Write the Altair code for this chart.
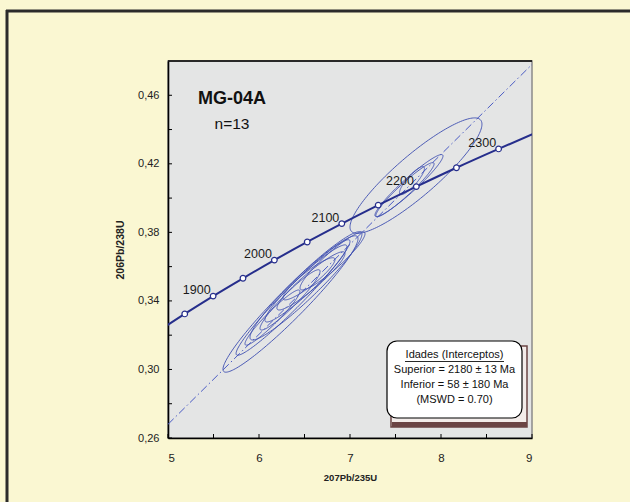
import altair as alt
import numpy as np
import pandas as pd

# ---- data ----
# Concordia markers (Ma) and their 207Pb/235U, 206Pb/238U positions
ages = [1800, 1850, 1900, 1950, 2000, 2050, 2100, 2150, 2200, 2250, 2300, 2350]
conc_x = [4.887, 5.184, 5.496, 5.824, 6.169, 6.530, 6.910, 7.310, 7.729, 8.170, 8.633, 9.119]
conc_y = [0.3221, 0.3324, 0.3428, 0.3532, 0.3638, 0.3744, 0.3851, 0.3959, 0.4067, 0.4177, 0.4287, 0.4399]
label_ages = [1900, 2000, 2100, 2200, 2300]

# Discordia (dash-dot) end points
disc_x = [5.0, 9.0]
disc_y = [0.268, 0.478]

# Error ellipses: centre, half extents, correlation
ell_cx = [6.346, 6.374, 6.516, 6.516, 6.571, 6.549, 6.341, 6.148, 6.808, 7.725, 7.648, 7.604, 7.681]
ell_cy = [0.3382, 0.3420, 0.3488, 0.3502, 0.3517, 0.3529, 0.3406, 0.3303, 0.3634, 0.4131, 0.4073, 0.4049, 0.4102]
ell_sx = [0.742, 0.626, 0.615, 0.451, 0.374, 0.286, 0.330, 0.302, 0.357, 0.725, 0.374, 0.320, 0.137]
ell_sy = [0.0398, 0.0337, 0.0316, 0.0225, 0.0170, 0.0123, 0.0176, 0.0161, 0.0170, 0.0337, 0.0181, 0.0158, 0.0082]
ell_rho = [0.957, 0.970, 0.952, 0.950, 0.935, 0.910, 0.946, 0.952, 0.930, 0.890, 0.954, 0.954, 0.860]

x_ticks = [5, 5.5, 6, 6.5, 7, 7.5, 8, 8.5, 9]
y_ticks = [0.26, 0.28, 0.30, 0.32, 0.34, 0.36, 0.38, 0.40, 0.42, 0.44, 0.46]

box_lines = ["Idades (Interceptos)", "Superior = 2180 ± 13 Ma", "Inferior = 58 ± 180 Ma", "(MSWD = 0.70)"]

# ---- tables ----
W, H = 364, 377
FONT = "Liberation Sans, Arial"
NAVY = "#262e8c"
ELL = "#3c4db0"

conc = pd.DataFrame({"age": ages, "x": conc_x, "y": conc_y})
markers = conc[(conc.age >= 1850) & (conc.age <= 2300)]
labels = conc[conc.age.isin(label_ages)]
disc = pd.DataFrame({"x": disc_x, "y": disc_y})

rows = []
t = np.linspace(0, 2 * np.pi, 160)
for i, (cx, cy, sx, sy, r) in enumerate(zip(ell_cx, ell_cy, ell_sx, ell_sy, ell_rho)):
    ex = cx + sx * np.cos(t)
    ey = cy + sy * (r * np.cos(t) + np.sqrt(1 - r * r) * np.sin(t))
    for k in range(len(t)):
        rows.append({"id": i, "k": k, "x": ex[k], "y": ey[k]})
ell = pd.DataFrame(rows)

xs = alt.Scale(domain=[5, 9], nice=False, zero=False)
ys = alt.Scale(domain=[0.26, 0.48], nice=False, zero=False)

one = pd.DataFrame({"a": [0]})

base_axes = alt.Chart(disc).mark_line(
    color="#4a5bc4", strokeWidth=1, strokeDash=[8, 3, 1.5, 3], clip=True
).encode(
    x=alt.X("x:Q", scale=xs, title="207Pb/235U",
            axis=alt.Axis(values=x_ticks, ticks=False, grid=False,
                          labelExpr="datum.value % 1 == 0 ? format(datum.value, 'd') : ''",
                          labelFont=FONT, labelFontSize=11.5, labelColor="#222",
                          labelPadding=14, domainColor="#000", domainWidth=1.6,
                          titleFont="Liberation Sans", titleFontSize=9.5, titleFontWeight="bold",
                          titleColor="#222", titlePadding=9)),
    y=alt.Y("y:Q", scale=ys, title="206Pb/238U",
            axis=alt.Axis(values=y_ticks, ticks=False, grid=False,
                          labelExpr="round(datum.value*100) % 4 == 2 ? replace(format(datum.value, '.2f'), '.', ',') : ''",
                          labelFont=FONT, labelFontSize=11, labelColor="#222",
                          labelPadding=9, domainColor="#000", domainWidth=1.6,
                          titleFont="Liberation Sans", titleFontSize=10.5, titleFontWeight="bold",
                          titleColor="#222", titlePadding=12)),
)

xtick = alt.Chart(pd.DataFrame({"v": x_ticks})).mark_rule(color="#000", strokeWidth=1).encode(
    x=alt.X("v:Q", scale=xs), y=alt.value(H), y2=alt.value(H - 4))
ytick = alt.Chart(pd.DataFrame({"v": y_ticks})).mark_rule(color="#000", strokeWidth=1).encode(
    y=alt.Y("v:Q", scale=ys), x=alt.value(0), x2=alt.value(4))

top_border = alt.Chart(one).mark_rule(color="#000", strokeWidth=1.6).encode(
    x=alt.value(0), x2=alt.value(W), y=alt.value(0))

ellipses = alt.Chart(ell).mark_line(color=ELL, strokeWidth=0.9, clip=True).encode(
    x=alt.X("x:Q", scale=xs), y=alt.Y("y:Q", scale=ys), detail="id:N", order="k:Q")

conc_line = alt.Chart(conc).mark_line(color=NAVY, strokeWidth=2, clip=True, interpolate="monotone").encode(
    x=alt.X("x:Q", scale=xs), y=alt.Y("y:Q", scale=ys), order="age:Q")

conc_pts = alt.Chart(markers).mark_point(filled=True, fill="white", stroke=NAVY, strokeWidth=1.2,
                                         size=32, opacity=1).encode(
    x=alt.X("x:Q", scale=xs), y=alt.Y("y:Q", scale=ys))

conc_lbl = alt.Chart(labels).mark_text(font=FONT, fontSize=12.5, color="#1a1a1a", align="right",
                                       baseline="alphabetic", dx=-2.5, dy=-2).encode(
    x=alt.X("x:Q", scale=xs), y=alt.Y("y:Q", scale=ys), text=alt.Text("age:Q", format="d"))

title1 = alt.Chart(one).mark_text(font=FONT, fontSize=18, fontWeight="bold", color="#111",
                                  baseline="middle", align="center").encode(
    x=alt.value(64), y=alt.value(38), text=alt.value("MG-04A"))
title2 = alt.Chart(one).mark_text(font=FONT, fontSize=15.5, color="#111",
                                  baseline="middle", align="center").encode(
    x=alt.value(64), y=alt.value(62.5), text=alt.value("n=13"))

# legend box (shadow + box + text)
shadow = alt.Chart(one).mark_rect(fill="#f3ecea", stroke="#6b4444", strokeWidth=1.5).encode(
    x=alt.value(223), x2=alt.value(359), y=alt.value(285), y2=alt.value(366))
band = alt.Chart(one).mark_rect(fill="#6b4444").encode(
    x=alt.value(224), x2=alt.value(359), y=alt.value(361), y2=alt.value(366))
box = alt.Chart(one).mark_rect(fill="white", stroke="#000", strokeWidth=1.2, cornerRadius=10).encode(
    x=alt.value(219), x2=alt.value(354), y=alt.value(280), y2=alt.value(357))

box_layers = []
for i, line in enumerate(box_lines):
    box_layers.append(
        alt.Chart(one).mark_text(font=FONT, fontSize=11, color="#111", align="center",
                                 baseline="middle").encode(
            x=alt.value(286.5), y=alt.value(294 + 15 * i), text=alt.value(line)))
underline = alt.Chart(one).mark_rule(color="#111", strokeWidth=0.9).encode(
    x=alt.value(237), x2=alt.value(336), y=alt.value(300.5))

# outer frame lines (dark border of the figure)
frame_top = alt.Chart(one).mark_rule(color="#2b2b2b", strokeWidth=3).encode(
    x=alt.value(-162), x2=alt.value(470), y=alt.value(-50))
frame_left = alt.Chart(one).mark_rule(color="#2b2b2b", strokeWidth=3).encode(
    x=alt.value(-161), y=alt.value(-51), y2=alt.value(450))

chart = alt.layer(
    base_axes, ellipses, conc_line, conc_pts, conc_lbl, xtick, ytick, top_border,
    title1, title2, shadow, band, box, *box_layers, underline, frame_top, frame_left
).properties(
    width=W, height=H,
    autosize=alt.AutoSizeParams(type="none"),
    padding={"left": 168, "top": 61, "right": 98, "bottom": 64},
    background="#FAF7D2",
).configure_view(fill="#E4E5E5", stroke="#8a8a8a", strokeWidth=1.5)

chart.save("out.html", embed_options={"renderer": "svg", "actions": False})
